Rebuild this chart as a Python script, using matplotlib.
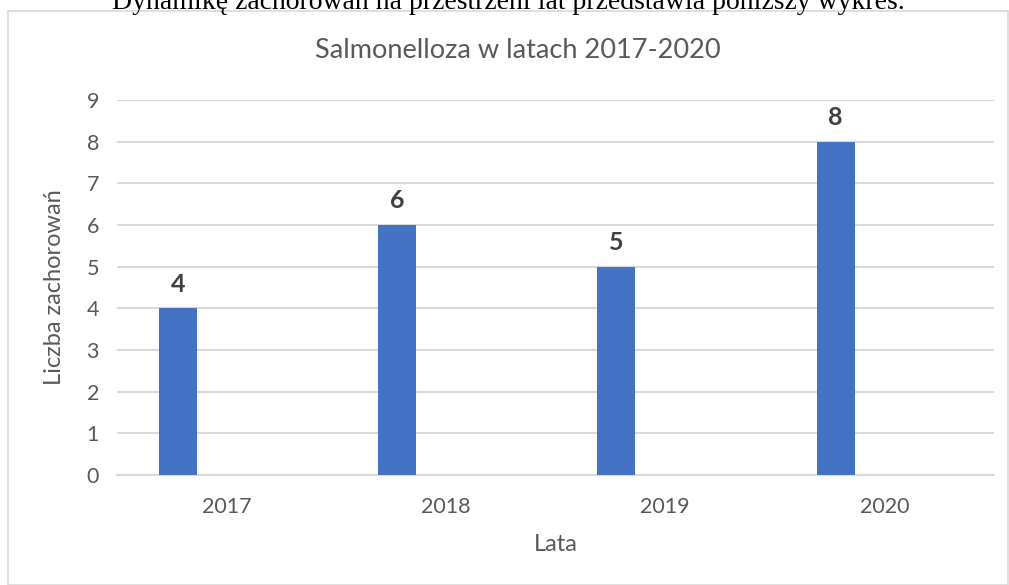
import numpy as np
import matplotlib.pyplot as plt
from matplotlib.patches import Rectangle

# data
years = ['2017', '2018', '2019', '2020']
cases = [4, 6, 5, 8]

bar_color = '#4472C4'
grid_color = '#D9D9D9'
text_color = '#595959'

plt.rcParams['font.family'] = ['Lato', 'DejaVu Sans']

fig = plt.figure(figsize=(10.09, 5.85), dpi=100)
W, H = 1009, 585

# chart frame (like an embedded office chart)
fig.patches.append(Rectangle((8 / W, 0), (1008 - 8) / W, (585 - 11) / H,
                             transform=fig.transFigure, fill=False,
                             edgecolor='#D9D9D9', linewidth=1.2))

# caption from the document, cut off at the top
fig.text(508 / W, 1 - 9 / H, 'Dynamikę zachorowań na przestrzeni lat przedstawia poniższy wykres.',
         ha='center', va='baseline', fontsize=20, family=['Liberation Serif'], color='black')

ax = fig.add_axes([117 / W, (H - 475) / H, (994 - 117) / W, (475 - 100) / H])

x = np.arange(len(years))
offset = -0.222
bars = ax.bar(x + offset, cases, width=0.173, color=bar_color, zorder=3)

for xi, v in zip(x, cases):
    ax.text(xi + offset, v + 0.3, str(v), ha='center', va='bottom',
            fontsize=18, fontweight='bold', color='#404040')

ax.set_xlim(-0.5, len(years) - 0.5)
ax.set_ylim(0, 9)
ax.set_yticks(range(10))
ax.set_xticks(x)
ax.set_xticklabels(years)

ax.grid(axis='y', color=grid_color, linewidth=1.5, zorder=0)
for s in ['top', 'right', 'left']:
    ax.spines[s].set_visible(False)
ax.spines['bottom'].set_color(grid_color)
ax.spines['bottom'].set_linewidth(1.5)
ax.tick_params(axis='both', length=0, labelsize=15.5, labelcolor=text_color)
ax.tick_params(axis='y', pad=13)
ax.tick_params(axis='x', pad=16)

ax.set_xlabel('Lata', fontsize=17, color=text_color, labelpad=12)
ax.set_ylabel('Liczba zachorowań', fontsize=17, color=text_color)
ax.yaxis.set_label_coords(-0.059, 0.5)

fig.text(518 / W, 1 - 50 / H, 'Salmonelloza w latach 2017-2020', ha='center', va='center',
         fontsize=19.5, color=text_color)

fig.savefig('out.png', dpi=100)
